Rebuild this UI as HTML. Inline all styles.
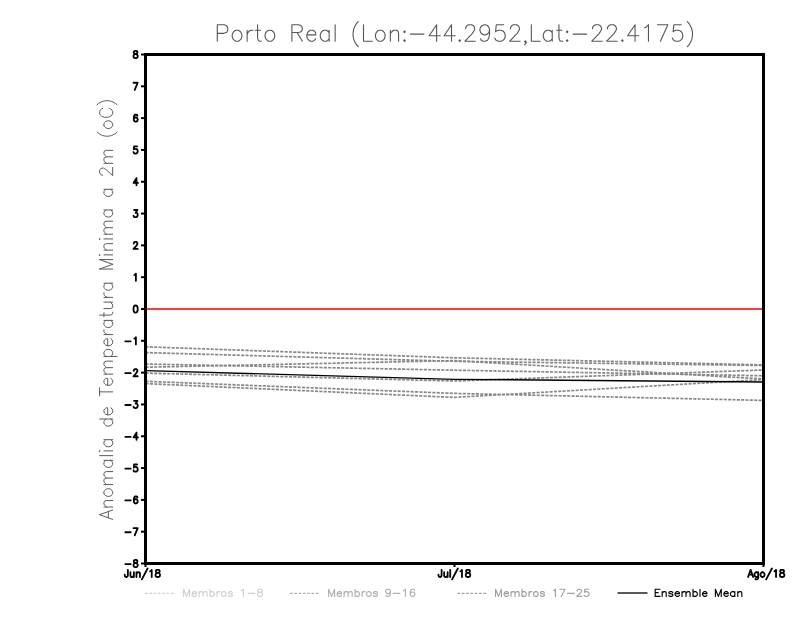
<!DOCTYPE html>
<html><head><meta charset="utf-8"><style>html,body{margin:0;padding:0;background:#fff;width:800px;height:618px;overflow:hidden}svg{display:block}</style></head>
<body><svg width="800" height="618" viewBox="0 0 800 618">
<rect x="0" y="0" width="800" height="618" fill="#fff"/>
<polyline points="145.5,346.80 454.5,357.80 763.5,364.90" fill="none" stroke="#888888" stroke-width="1.7" stroke-dasharray="3.1 1.25"/>
<polyline points="145.5,352.60 454.5,361.30 763.5,365.50" fill="none" stroke="#888888" stroke-width="1.7" stroke-dasharray="3.1 1.25"/>
<polyline points="145.5,364.00 454.5,370.20 763.5,375.80" fill="none" stroke="#888888" stroke-width="1.7" stroke-dasharray="3.1 1.25"/>
<polyline points="145.5,367.25 454.5,360.60 763.5,379.00" fill="none" stroke="#888888" stroke-width="1.7" stroke-dasharray="3.1 1.25"/>
<polyline points="145.5,373.10 454.5,381.00 763.5,370.00" fill="none" stroke="#888888" stroke-width="1.7" stroke-dasharray="3.1 1.25"/>
<polyline points="145.5,381.30 454.5,393.40 763.5,400.40" fill="none" stroke="#888888" stroke-width="1.7" stroke-dasharray="3.1 1.25"/>
<polyline points="145.5,383.60 454.5,397.40 763.5,379.60" fill="none" stroke="#888888" stroke-width="1.7" stroke-dasharray="3.1 1.25"/>
<polyline points="145.5,370.60 454.5,379.30 763.5,382.00" fill="none" stroke="#000" stroke-width="1.35"/>
<line x1="146" y1="309" x2="763" y2="309" stroke="#fa3c3c" stroke-width="2"/>
<rect x="145.5" y="54.5" width="618" height="509" fill="none" stroke="#000" stroke-width="3"/>
<line x1="141" y1="563.50" x2="145" y2="563.50" stroke="#000" stroke-width="2"/>
<line x1="141" y1="531.69" x2="145" y2="531.69" stroke="#000" stroke-width="2"/>
<line x1="141" y1="499.88" x2="145" y2="499.88" stroke="#000" stroke-width="2"/>
<line x1="141" y1="468.06" x2="145" y2="468.06" stroke="#000" stroke-width="2"/>
<line x1="141" y1="436.25" x2="145" y2="436.25" stroke="#000" stroke-width="2"/>
<line x1="141" y1="404.44" x2="145" y2="404.44" stroke="#000" stroke-width="2"/>
<line x1="141" y1="372.62" x2="145" y2="372.62" stroke="#000" stroke-width="2"/>
<line x1="141" y1="340.81" x2="145" y2="340.81" stroke="#000" stroke-width="2"/>
<line x1="141" y1="309.00" x2="145" y2="309.00" stroke="#000" stroke-width="2"/>
<line x1="141" y1="277.19" x2="145" y2="277.19" stroke="#000" stroke-width="2"/>
<line x1="141" y1="245.38" x2="145" y2="245.38" stroke="#000" stroke-width="2"/>
<line x1="141" y1="213.56" x2="145" y2="213.56" stroke="#000" stroke-width="2"/>
<line x1="141" y1="181.75" x2="145" y2="181.75" stroke="#000" stroke-width="2"/>
<line x1="141" y1="149.94" x2="145" y2="149.94" stroke="#000" stroke-width="2"/>
<line x1="141" y1="118.12" x2="145" y2="118.12" stroke="#000" stroke-width="2"/>
<line x1="141" y1="86.31" x2="145" y2="86.31" stroke="#000" stroke-width="2"/>
<line x1="141" y1="54.50" x2="145" y2="54.50" stroke="#000" stroke-width="2"/>
<line x1="145.5" y1="563" x2="145.5" y2="567" stroke="#000" stroke-width="2"/>
<line x1="454.5" y1="563" x2="454.5" y2="567" stroke="#000" stroke-width="2"/>
<line x1="763.5" y1="563" x2="763.5" y2="567" stroke="#000" stroke-width="2"/>
<path d="M135.00 559.96 L134.10 560.30 L133.80 560.98 L133.80 561.66 L134.10 562.34 L134.70 562.68 L135.90 563.02 L136.80 563.36 L137.40 564.04 L137.70 564.72 L137.70 565.74 L137.40 566.42 L137.10 566.76 L136.20 567.10 L135.00 567.10 L134.10 566.76 L133.80 566.42 L133.50 565.74 L133.50 564.72 L133.80 564.04 L134.40 563.36 L135.30 563.02 L136.50 562.68 L137.10 562.34 L137.40 561.66 L137.40 560.98 L137.10 560.30 L136.20 559.96 L135.00 559.96" fill="none" stroke="#000" stroke-width="1.8" stroke-linecap="round" stroke-linejoin="round"/>
<path d="M125.30 564.04 L130.70 564.04" fill="none" stroke="#000" stroke-width="1.8" stroke-linecap="round" stroke-linejoin="round"/>
<path d="M137.70 528.15 L134.70 535.29 M133.50 528.15 L137.70 528.15" fill="none" stroke="#000" stroke-width="1.8" stroke-linecap="round" stroke-linejoin="round"/>
<path d="M125.30 532.23 L130.70 532.23" fill="none" stroke="#000" stroke-width="1.8" stroke-linecap="round" stroke-linejoin="round"/>
<path d="M137.40 497.36 L137.10 496.68 L136.20 496.34 L135.60 496.34 L134.70 496.68 L134.10 497.70 L133.80 499.40 L133.80 501.10 L134.10 502.46 L134.70 503.14 L135.60 503.48 L135.90 503.48 L136.80 503.14 L137.40 502.46 L137.70 501.44 L137.70 501.10 L137.40 500.08 L136.80 499.40 L135.90 499.06 L135.60 499.06 L134.70 499.40 L134.10 500.08 L133.80 501.10" fill="none" stroke="#000" stroke-width="1.8" stroke-linecap="round" stroke-linejoin="round"/>
<path d="M125.30 500.42 L130.70 500.42" fill="none" stroke="#000" stroke-width="1.8" stroke-linecap="round" stroke-linejoin="round"/>
<path d="M137.10 464.52 L134.10 464.52 L133.80 467.58 L134.10 467.24 L135.00 466.90 L135.90 466.90 L136.80 467.24 L137.40 467.92 L137.70 468.94 L137.70 469.62 L137.40 470.64 L136.80 471.32 L135.90 471.66 L135.00 471.66 L134.10 471.32 L133.80 470.98 L133.50 470.30" fill="none" stroke="#000" stroke-width="1.8" stroke-linecap="round" stroke-linejoin="round"/>
<path d="M125.30 468.60 L130.70 468.60" fill="none" stroke="#000" stroke-width="1.8" stroke-linecap="round" stroke-linejoin="round"/>
<path d="M136.50 432.71 L133.50 437.47 L138.00 437.47 M136.50 432.71 L136.50 439.85" fill="none" stroke="#000" stroke-width="1.8" stroke-linecap="round" stroke-linejoin="round"/>
<path d="M125.30 436.79 L130.70 436.79" fill="none" stroke="#000" stroke-width="1.8" stroke-linecap="round" stroke-linejoin="round"/>
<path d="M134.10 400.90 L137.40 400.90 L135.60 403.62 L136.50 403.62 L137.10 403.96 L137.40 404.30 L137.70 405.32 L137.70 406.00 L137.40 407.02 L136.80 407.70 L135.90 408.04 L135.00 408.04 L134.10 407.70 L133.80 407.36 L133.50 406.68" fill="none" stroke="#000" stroke-width="1.8" stroke-linecap="round" stroke-linejoin="round"/>
<path d="M125.30 404.98 L130.70 404.98" fill="none" stroke="#000" stroke-width="1.8" stroke-linecap="round" stroke-linejoin="round"/>
<path d="M133.80 370.79 L133.80 370.45 L134.10 369.77 L134.40 369.43 L135.00 369.09 L136.20 369.09 L136.80 369.43 L137.10 369.77 L137.40 370.45 L137.40 371.12 L137.10 371.81 L136.50 372.83 L133.50 376.23 L137.70 376.23" fill="none" stroke="#000" stroke-width="1.8" stroke-linecap="round" stroke-linejoin="round"/>
<path d="M125.30 373.17 L130.70 373.17" fill="none" stroke="#000" stroke-width="1.8" stroke-linecap="round" stroke-linejoin="round"/>
<path d="M134.40 338.63 L135.00 338.29 L135.90 337.27 L135.90 344.41" fill="none" stroke="#000" stroke-width="1.8" stroke-linecap="round" stroke-linejoin="round"/>
<path d="M125.30 341.35 L130.70 341.35" fill="none" stroke="#000" stroke-width="1.8" stroke-linecap="round" stroke-linejoin="round"/>
<path d="M135.30 305.46 L134.40 305.80 L133.80 306.82 L133.50 308.52 L133.50 309.54 L133.80 311.24 L134.40 312.26 L135.30 312.60 L135.90 312.60 L136.80 312.26 L137.40 311.24 L137.70 309.54 L137.70 308.52 L137.40 306.82 L136.80 305.80 L135.90 305.46 L135.30 305.46" fill="none" stroke="#000" stroke-width="1.8" stroke-linecap="round" stroke-linejoin="round"/>
<path d="M134.40 275.01 L135.00 274.67 L135.90 273.65 L135.90 280.79" fill="none" stroke="#000" stroke-width="1.8" stroke-linecap="round" stroke-linejoin="round"/>
<path d="M133.80 243.53 L133.80 243.19 L134.10 242.51 L134.40 242.17 L135.00 241.83 L136.20 241.83 L136.80 242.17 L137.10 242.51 L137.40 243.19 L137.40 243.88 L137.10 244.56 L136.50 245.57 L133.50 248.97 L137.70 248.97" fill="none" stroke="#000" stroke-width="1.8" stroke-linecap="round" stroke-linejoin="round"/>
<path d="M134.10 210.02 L137.40 210.02 L135.60 212.74 L136.50 212.74 L137.10 213.08 L137.40 213.42 L137.70 214.44 L137.70 215.12 L137.40 216.14 L136.80 216.82 L135.90 217.16 L135.00 217.16 L134.10 216.82 L133.80 216.48 L133.50 215.80" fill="none" stroke="#000" stroke-width="1.8" stroke-linecap="round" stroke-linejoin="round"/>
<path d="M136.50 178.21 L133.50 182.97 L138.00 182.97 M136.50 178.21 L136.50 185.35" fill="none" stroke="#000" stroke-width="1.8" stroke-linecap="round" stroke-linejoin="round"/>
<path d="M137.10 146.40 L134.10 146.40 L133.80 149.46 L134.10 149.12 L135.00 148.78 L135.90 148.78 L136.80 149.12 L137.40 149.80 L137.70 150.82 L137.70 151.50 L137.40 152.52 L136.80 153.20 L135.90 153.54 L135.00 153.54 L134.10 153.20 L133.80 152.86 L133.50 152.18" fill="none" stroke="#000" stroke-width="1.8" stroke-linecap="round" stroke-linejoin="round"/>
<path d="M137.40 115.60 L137.10 114.92 L136.20 114.58 L135.60 114.58 L134.70 114.92 L134.10 115.94 L133.80 117.64 L133.80 119.34 L134.10 120.70 L134.70 121.38 L135.60 121.72 L135.90 121.72 L136.80 121.38 L137.40 120.70 L137.70 119.68 L137.70 119.34 L137.40 118.32 L136.80 117.64 L135.90 117.30 L135.60 117.30 L134.70 117.64 L134.10 118.32 L133.80 119.34" fill="none" stroke="#000" stroke-width="1.8" stroke-linecap="round" stroke-linejoin="round"/>
<path d="M137.70 82.77 L134.70 89.91 M133.50 82.77 L137.70 82.77" fill="none" stroke="#000" stroke-width="1.8" stroke-linecap="round" stroke-linejoin="round"/>
<path d="M135.00 50.96 L134.10 51.30 L133.80 51.98 L133.80 52.66 L134.10 53.34 L134.70 53.68 L135.90 54.02 L136.80 54.36 L137.40 55.04 L137.70 55.72 L137.70 56.74 L137.40 57.42 L137.10 57.76 L136.20 58.10 L135.00 58.10 L134.10 57.76 L133.80 57.42 L133.50 56.74 L133.50 55.72 L133.80 55.04 L134.40 54.36 L135.30 54.02 L136.50 53.68 L137.10 53.34 L137.40 52.66 L137.40 51.98 L137.10 51.30 L136.20 50.96 L135.00 50.96" fill="none" stroke="#000" stroke-width="1.8" stroke-linecap="round" stroke-linejoin="round"/>
<path d="M127.87 569.86 L127.87 575.30 L127.55 576.32 L127.24 576.66 L126.60 577.00 L125.96 577.00 L125.33 576.66 L125.01 576.32 L124.69 575.30 L124.69 574.62 M130.42 572.24 L130.42 575.64 L130.73 576.66 L131.37 577.00 L132.32 577.00 L132.96 576.66 L133.91 575.64 M133.91 572.24 L133.91 577.00 M136.46 572.24 L136.46 577.00 M136.46 573.60 L137.41 572.58 L138.05 572.24 L139.00 572.24 L139.64 572.58 L139.96 573.60 L139.96 577.00 M147.59 568.50 L141.86 579.38 M150.13 571.22 L150.77 570.88 L151.72 569.86 L151.72 577.00 M157.13 569.86 L156.17 570.20 L155.86 570.88 L155.86 571.56 L156.17 572.24 L156.81 572.58 L158.08 572.92 L159.04 573.26 L159.67 573.94 L159.99 574.62 L159.99 575.64 L159.67 576.32 L159.35 576.66 L158.40 577.00 L157.13 577.00 L156.17 576.66 L155.86 576.32 L155.54 575.64 L155.54 574.62 L155.86 573.94 L156.49 573.26 L157.45 572.92 L158.72 572.58 L159.35 572.24 L159.67 571.56 L159.67 570.88 L159.35 570.20 L158.40 569.86 L157.13 569.86" fill="none" stroke="#000" stroke-width="1.8" stroke-linecap="round" stroke-linejoin="round"/>
<path d="M441.62 569.86 L441.62 575.30 L441.30 576.32 L440.99 576.66 L440.35 577.00 L439.71 577.00 L439.08 576.66 L438.76 576.32 L438.44 575.30 L438.44 574.62 M444.17 572.24 L444.17 575.64 L444.48 576.66 L445.12 577.00 L446.07 577.00 L446.71 576.66 L447.66 575.64 M447.66 572.24 L447.66 577.00 M450.21 569.86 L450.21 577.00 M457.84 568.50 L452.12 579.38 M460.38 571.22 L461.02 570.88 L461.97 569.86 L461.97 577.00 M467.38 569.86 L466.42 570.20 L466.11 570.88 L466.11 571.56 L466.42 572.24 L467.06 572.58 L468.33 572.92 L469.29 573.26 L469.92 573.94 L470.24 574.62 L470.24 575.64 L469.92 576.32 L469.60 576.66 L468.65 577.00 L467.38 577.00 L466.42 576.66 L466.11 576.32 L465.79 575.64 L465.79 574.62 L466.11 573.94 L466.74 573.26 L467.70 572.92 L468.97 572.58 L469.60 572.24 L469.92 571.56 L469.92 570.88 L469.60 570.20 L468.65 569.86 L467.38 569.86" fill="none" stroke="#000" stroke-width="1.8" stroke-linecap="round" stroke-linejoin="round"/>
<path d="M750.60 569.86 L748.06 577.00 M750.60 569.86 L753.14 577.00 M749.01 574.62 L752.19 574.62 M758.23 572.24 L758.23 577.68 L757.91 578.70 L757.60 579.04 L756.96 579.38 L756.01 579.38 L755.37 579.04 M758.23 573.26 L757.60 572.58 L756.96 572.24 L756.01 572.24 L755.37 572.58 L754.73 573.26 L754.42 574.28 L754.42 574.96 L754.73 575.98 L755.37 576.66 L756.01 577.00 L756.96 577.00 L757.60 576.66 L758.23 575.98 M762.05 572.24 L761.41 572.58 L760.78 573.26 L760.46 574.28 L760.46 574.96 L760.78 575.98 L761.41 576.66 L762.05 577.00 L763.00 577.00 L763.64 576.66 L764.27 575.98 L764.59 574.96 L764.59 574.28 L764.27 573.26 L763.64 572.58 L763.00 572.24 L762.05 572.24 M771.91 568.50 L766.18 579.38 M774.45 571.22 L775.09 570.88 L776.04 569.86 L776.04 577.00 M781.45 569.86 L780.49 570.20 L780.17 570.88 L780.17 571.56 L780.49 572.24 L781.13 572.58 L782.40 572.92 L783.35 573.26 L783.99 573.94 L784.31 574.62 L784.31 575.64 L783.99 576.32 L783.67 576.66 L782.72 577.00 L781.45 577.00 L780.49 576.66 L780.17 576.32 L779.86 575.64 L779.86 574.62 L780.17 573.94 L780.81 573.26 L781.76 572.92 L783.04 572.58 L783.67 572.24 L783.99 571.56 L783.99 570.88 L783.67 570.20 L782.72 569.86 L781.45 569.86" fill="none" stroke="#000" stroke-width="1.8" stroke-linecap="round" stroke-linejoin="round"/>
<path d="M217.28 24.72 L217.28 41.20 M217.28 24.72 L224.00 24.72 L226.24 25.50 L226.98 26.29 L227.73 27.86 L227.73 30.21 L226.98 31.78 L226.24 32.57 L224.00 33.35 L217.28 33.35 M235.93 30.21 L234.44 31.00 L232.95 32.57 L232.20 34.92 L232.20 36.49 L232.95 38.85 L234.44 40.42 L235.93 41.20 L238.17 41.20 L239.66 40.42 L241.16 38.85 L241.90 36.49 L241.90 34.92 L241.16 32.57 L239.66 31.00 L238.17 30.21 L235.93 30.21 M247.12 30.21 L247.12 41.20 M247.12 34.92 L247.87 32.57 L249.36 31.00 L250.85 30.21 L253.09 30.21 M257.57 24.72 L257.57 38.06 L258.31 40.42 L259.81 41.20 L261.30 41.20 M255.33 30.21 L260.55 30.21 M268.76 30.21 L267.27 31.00 L265.77 32.57 L265.03 34.92 L265.03 36.49 L265.77 38.85 L267.27 40.42 L268.76 41.20 L271.00 41.20 L272.49 40.42 L273.98 38.85 L274.73 36.49 L274.73 34.92 L273.98 32.57 L272.49 31.00 L271.00 30.21 L268.76 30.21 M291.88 24.72 L291.88 41.20 M291.88 24.72 L298.60 24.72 L300.84 25.50 L301.58 26.29 L302.33 27.86 L302.33 29.43 L301.58 31.00 L300.84 31.78 L298.60 32.57 L291.88 32.57 M297.11 32.57 L302.33 41.20 M306.80 34.92 L315.76 34.92 L315.76 33.35 L315.01 31.78 L314.26 31.00 L312.77 30.21 L310.53 30.21 L309.04 31.00 L307.55 32.57 L306.80 34.92 L306.80 36.49 L307.55 38.85 L309.04 40.42 L310.53 41.20 L312.77 41.20 L314.26 40.42 L315.76 38.85 M329.18 30.21 L329.18 41.20 M329.18 32.57 L327.69 31.00 L326.20 30.21 L323.96 30.21 L322.47 31.00 L320.98 32.57 L320.23 34.92 L320.23 36.49 L320.98 38.85 L322.47 40.42 L323.96 41.20 L326.20 41.20 L327.69 40.42 L329.18 38.85 M335.15 24.72 L335.15 41.20 M358.28 21.58 L356.79 23.15 L355.29 25.50 L353.80 28.64 L353.06 32.57 L353.06 35.71 L353.80 39.63 L355.29 42.77 L356.79 45.12 L358.28 46.70 M363.50 24.72 L363.50 41.20 M363.50 41.20 L372.45 41.20 M379.17 30.21 L377.67 31.00 L376.18 32.57 L375.44 34.92 L375.44 36.49 L376.18 38.85 L377.67 40.42 L379.17 41.20 L381.40 41.20 L382.90 40.42 L384.39 38.85 L385.13 36.49 L385.13 34.92 L384.39 32.57 L382.90 31.00 L381.40 30.21 L379.17 30.21 M390.36 30.21 L390.36 41.20 M390.36 33.35 L392.59 31.00 L394.09 30.21 L396.32 30.21 L397.82 31.00 L398.56 33.35 L398.56 41.20 M404.53 31.00 L403.78 31.78 L404.53 32.57 L405.28 31.78 L404.53 31.00 M404.53 39.79 L403.78 40.57 L404.53 41.36 L405.28 40.57 L404.53 39.79 M410.50 34.14 L423.93 34.14 M436.61 24.72 L429.15 35.71 L440.34 35.71 M436.61 24.72 L436.61 41.20 M451.53 24.72 L444.07 35.71 L455.26 35.71 M451.53 24.72 L451.53 41.20 M459.73 39.79 L458.99 40.57 L459.73 41.36 L460.48 40.57 L459.73 39.79 M465.70 28.64 L465.70 27.86 L466.45 26.29 L467.19 25.50 L468.69 24.72 L471.67 24.72 L473.16 25.50 L473.91 26.29 L474.65 27.86 L474.65 29.43 L473.91 31.00 L472.42 33.35 L464.96 41.20 L475.40 41.20 M489.57 30.21 L488.83 32.57 L487.34 34.14 L485.10 34.92 L484.35 34.92 L482.11 34.14 L480.62 32.57 L479.88 30.21 L479.88 29.43 L480.62 27.07 L482.11 25.50 L484.35 24.72 L485.10 24.72 L487.34 25.50 L488.83 27.07 L489.57 30.21 L489.57 34.14 L488.83 38.06 L487.34 40.42 L485.10 41.20 L483.61 41.20 L481.37 40.42 L480.62 38.85 M503.75 24.72 L496.29 24.72 L495.54 31.78 L496.29 31.00 L498.53 30.21 L500.76 30.21 L503.00 31.00 L504.49 32.57 L505.24 34.92 L505.24 36.49 L504.49 38.85 L503.00 40.42 L500.76 41.20 L498.53 41.20 L496.29 40.42 L495.54 39.63 L494.80 38.06 M510.46 28.64 L510.46 27.86 L511.21 26.29 L511.95 25.50 L513.45 24.72 L516.43 24.72 L517.92 25.50 L518.67 26.29 L519.41 27.86 L519.41 29.43 L518.67 31.00 L517.18 33.35 L509.72 41.20 L520.16 41.20 M526.13 41.59 L525.38 42.38 L524.64 41.59 L525.38 40.81 L526.13 41.59 L526.13 43.16 L524.64 44.73 M531.35 24.72 L531.35 41.20 M531.35 41.20 L540.30 41.20 M552.24 30.21 L552.24 41.20 M552.24 32.57 L550.75 31.00 L549.25 30.21 L547.02 30.21 L545.52 31.00 L544.03 32.57 L543.29 34.92 L543.29 36.49 L544.03 38.85 L545.52 40.42 L547.02 41.20 L549.25 41.20 L550.75 40.42 L552.24 38.85 M558.95 24.72 L558.95 38.06 L559.70 40.42 L561.19 41.20 L562.68 41.20 M556.71 30.21 L561.94 30.21 M567.16 31.00 L566.41 31.78 L567.16 32.57 L567.90 31.78 L567.16 31.00 M567.16 39.79 L566.41 40.57 L567.16 41.36 L567.90 40.57 L567.16 39.79 M573.13 34.14 L586.55 34.14 M592.52 28.64 L592.52 27.86 L593.27 26.29 L594.01 25.50 L595.51 24.72 L598.49 24.72 L599.98 25.50 L600.73 26.29 L601.47 27.86 L601.47 29.43 L600.73 31.00 L599.24 33.35 L591.78 41.20 L602.22 41.20 M607.44 28.64 L607.44 27.86 L608.19 26.29 L608.93 25.50 L610.43 24.72 L613.41 24.72 L614.90 25.50 L615.65 26.29 L616.39 27.86 L616.39 29.43 L615.65 31.00 L614.16 33.35 L606.70 41.20 L617.14 41.20 M622.36 39.79 L621.62 40.57 L622.36 41.36 L623.11 40.57 L622.36 39.79 M635.04 24.72 L627.58 35.71 L638.77 35.71 M635.04 24.72 L635.04 41.20 M644.74 27.86 L646.23 27.07 L648.47 24.72 L648.47 41.20 M667.87 24.72 L660.41 41.20 M657.42 24.72 L667.87 24.72 M681.30 24.72 L673.84 24.72 L673.09 31.78 L673.84 31.00 L676.07 30.21 L678.31 30.21 L680.55 31.00 L682.04 32.57 L682.79 34.92 L682.79 36.49 L682.04 38.85 L680.55 40.42 L678.31 41.20 L676.07 41.20 L673.84 40.42 L673.09 39.63 L672.34 38.06 M687.26 21.58 L688.76 23.15 L690.25 25.50 L691.74 28.64 L692.49 32.57 L692.49 35.71 L691.74 39.63 L690.25 42.77 L688.76 45.12 L687.26 46.70" fill="none" stroke="#555" stroke-width="1.1" stroke-linecap="round" stroke-linejoin="round"/>
<g transform="translate(112.7,520.0) rotate(-90)"><path d="M5.31 -13.12 L0.59 0.00 M5.31 -13.12 L10.04 0.00 M2.36 -4.38 L8.27 -4.38 M12.99 -8.75 L12.99 0.00 M12.99 -6.25 L14.76 -8.12 L15.94 -8.75 L17.72 -8.75 L18.90 -8.12 L19.49 -6.25 L19.49 0.00 M26.57 -8.75 L25.39 -8.12 L24.21 -6.88 L23.62 -5.00 L23.62 -3.75 L24.21 -1.88 L25.39 -0.62 L26.57 0.00 L28.34 0.00 L29.53 -0.62 L30.71 -1.88 L31.30 -3.75 L31.30 -5.00 L30.71 -6.88 L29.53 -8.12 L28.34 -8.75 L26.57 -8.75 M35.43 -8.75 L35.43 0.00 M35.43 -6.25 L37.20 -8.12 L38.38 -8.75 L40.15 -8.75 L41.33 -8.12 L41.93 -6.25 L41.93 0.00 M41.93 -6.25 L43.70 -8.12 L44.88 -8.75 L46.65 -8.75 L47.83 -8.12 L48.42 -6.25 L48.42 0.00 M59.64 -8.75 L59.64 0.00 M59.64 -6.88 L58.46 -8.12 L57.28 -8.75 L55.51 -8.75 L54.33 -8.12 L53.15 -6.88 L52.55 -5.00 L52.55 -3.75 L53.15 -1.88 L54.33 -0.62 L55.51 0.00 L57.28 0.00 L58.46 -0.62 L59.64 -1.88 M64.36 -13.12 L64.36 0.00 M68.50 -13.12 L69.09 -12.50 L69.68 -13.12 L69.09 -13.75 L68.50 -13.12 M69.09 -8.75 L69.09 0.00 M80.31 -8.75 L80.31 0.00 M80.31 -6.88 L79.13 -8.12 L77.95 -8.75 L76.17 -8.75 L74.99 -8.12 L73.81 -6.88 L73.22 -5.00 L73.22 -3.75 L73.81 -1.88 L74.99 -0.62 L76.17 0.00 L77.95 0.00 L79.13 -0.62 L80.31 -1.88 M100.98 -13.12 L100.98 0.00 M100.98 -6.88 L99.79 -8.12 L98.61 -8.75 L96.84 -8.75 L95.66 -8.12 L94.48 -6.88 L93.89 -5.00 L93.89 -3.75 L94.48 -1.88 L95.66 -0.62 L96.84 0.00 L98.61 0.00 L99.79 -0.62 L100.98 -1.88 M105.11 -5.00 L112.19 -5.00 L112.19 -6.25 L111.60 -7.50 L111.01 -8.12 L109.83 -8.75 L108.06 -8.75 L106.88 -8.12 L105.70 -6.88 L105.11 -5.00 L105.11 -3.75 L105.70 -1.88 L106.88 -0.62 L108.06 0.00 L109.83 0.00 L111.01 -0.62 L112.19 -1.88 M128.14 -13.12 L128.14 0.00 M124.01 -13.12 L132.27 -13.12 M134.63 -5.00 L141.72 -5.00 L141.72 -6.25 L141.13 -7.50 L140.54 -8.12 L139.36 -8.75 L137.59 -8.75 L136.41 -8.12 L135.22 -6.88 L134.63 -5.00 L134.63 -3.75 L135.22 -1.88 L136.41 -0.62 L137.59 0.00 L139.36 0.00 L140.54 -0.62 L141.72 -1.88 M145.85 -8.75 L145.85 0.00 M145.85 -6.25 L147.62 -8.12 L148.81 -8.75 L150.58 -8.75 L151.76 -8.12 L152.35 -6.25 L152.35 0.00 M152.35 -6.25 L154.12 -8.12 L155.30 -8.75 L157.07 -8.75 L158.25 -8.12 L158.84 -6.25 L158.84 0.00 M163.57 -8.75 L163.57 4.38 M163.57 -6.88 L164.75 -8.12 L165.93 -8.75 L167.70 -8.75 L168.88 -8.12 L170.06 -6.88 L170.65 -5.00 L170.65 -3.75 L170.06 -1.88 L168.88 -0.62 L167.70 0.00 L165.93 0.00 L164.75 -0.62 L163.57 -1.88 M174.20 -5.00 L181.28 -5.00 L181.28 -6.25 L180.69 -7.50 L180.10 -8.12 L178.92 -8.75 L177.15 -8.75 L175.97 -8.12 L174.79 -6.88 L174.20 -5.00 L174.20 -3.75 L174.79 -1.88 L175.97 -0.62 L177.15 0.00 L178.92 0.00 L180.10 -0.62 L181.28 -1.88 M185.42 -8.75 L185.42 0.00 M185.42 -5.00 L186.01 -6.88 L187.19 -8.12 L188.37 -8.75 L190.14 -8.75 M199.59 -8.75 L199.59 0.00 M199.59 -6.88 L198.41 -8.12 L197.23 -8.75 L195.46 -8.75 L194.27 -8.12 L193.09 -6.88 L192.50 -5.00 L192.50 -3.75 L193.09 -1.88 L194.27 -0.62 L195.46 0.00 L197.23 0.00 L198.41 -0.62 L199.59 -1.88 M204.90 -13.12 L204.90 -2.50 L205.49 -0.62 L206.68 0.00 L207.86 0.00 M203.13 -8.75 L207.27 -8.75 M211.40 -8.75 L211.40 -2.50 L211.99 -0.62 L213.17 0.00 L214.94 0.00 L216.12 -0.62 L217.89 -2.50 M217.89 -8.75 L217.89 0.00 M222.62 -8.75 L222.62 0.00 M222.62 -5.00 L223.21 -6.88 L224.39 -8.12 L225.57 -8.75 L227.34 -8.75 M236.79 -8.75 L236.79 0.00 M236.79 -6.88 L235.61 -8.12 L234.43 -8.75 L232.66 -8.75 L231.48 -8.12 L230.30 -6.88 L229.70 -5.00 L229.70 -3.75 L230.30 -1.88 L231.48 -0.62 L232.66 0.00 L234.43 0.00 L235.61 -0.62 L236.79 -1.88 M250.96 -13.12 L250.96 0.00 M250.96 -13.12 L255.69 0.00 M260.41 -13.12 L255.69 0.00 M260.41 -13.12 L260.41 0.00 M264.54 -13.12 L265.13 -12.50 L265.73 -13.12 L265.13 -13.75 L264.54 -13.12 M265.13 -8.75 L265.13 0.00 M269.86 -8.75 L269.86 0.00 M269.86 -6.25 L271.63 -8.12 L272.81 -8.75 L274.58 -8.75 L275.76 -8.12 L276.35 -6.25 L276.35 0.00 M280.49 -13.12 L281.08 -12.50 L281.67 -13.12 L281.08 -13.75 L280.49 -13.12 M281.08 -8.75 L281.08 0.00 M285.80 -8.75 L285.80 0.00 M285.80 -6.25 L287.57 -8.12 L288.75 -8.75 L290.53 -8.75 L291.71 -8.12 L292.30 -6.25 L292.30 0.00 M292.30 -6.25 L294.07 -8.12 L295.25 -8.75 L297.02 -8.75 L298.20 -8.12 L298.79 -6.25 L298.79 0.00 M310.01 -8.75 L310.01 0.00 M310.01 -6.88 L308.83 -8.12 L307.65 -8.75 L305.88 -8.75 L304.70 -8.12 L303.52 -6.88 L302.93 -5.00 L302.93 -3.75 L303.52 -1.88 L304.70 -0.62 L305.88 0.00 L307.65 0.00 L308.83 -0.62 L310.01 -1.88 M330.68 -8.75 L330.68 0.00 M330.68 -6.88 L329.50 -8.12 L328.32 -8.75 L326.55 -8.75 L325.37 -8.12 L324.18 -6.88 L323.59 -5.00 L323.59 -3.75 L324.18 -1.88 L325.37 -0.62 L326.55 0.00 L328.32 0.00 L329.50 -0.62 L330.68 -1.88 M344.85 -10.00 L344.85 -10.62 L345.44 -11.88 L346.03 -12.50 L347.21 -13.12 L349.58 -13.12 L350.76 -12.50 L351.35 -11.88 L351.94 -10.62 L351.94 -9.38 L351.35 -8.12 L350.17 -6.25 L344.26 0.00 L352.53 0.00 M356.66 -8.75 L356.66 0.00 M356.66 -6.25 L358.43 -8.12 L359.61 -8.75 L361.39 -8.75 L362.57 -8.12 L363.16 -6.25 L363.16 0.00 M363.16 -6.25 L364.93 -8.12 L366.11 -8.75 L367.88 -8.75 L369.06 -8.12 L369.65 -6.25 L369.65 0.00 M387.96 -15.62 L386.78 -14.38 L385.60 -12.50 L384.42 -10.00 L383.82 -6.88 L383.82 -4.38 L384.42 -1.25 L385.60 1.25 L386.78 3.12 L387.96 4.38 M394.45 -8.75 L393.27 -8.12 L392.09 -6.88 L391.50 -5.00 L391.50 -3.75 L392.09 -1.88 L393.27 -0.62 L394.45 0.00 L396.23 0.00 L397.41 -0.62 L398.59 -1.88 L399.18 -3.75 L399.18 -5.00 L398.59 -6.88 L397.41 -8.12 L396.23 -8.75 L394.45 -8.75 M411.58 -10.00 L410.99 -11.25 L409.81 -12.50 L408.63 -13.12 L406.26 -13.12 L405.08 -12.50 L403.90 -11.25 L403.31 -10.00 L402.72 -8.12 L402.72 -5.00 L403.31 -3.12 L403.90 -1.88 L405.08 -0.62 L406.26 0.00 L408.63 0.00 L409.81 -0.62 L410.99 -1.88 L411.58 -3.12 M415.12 -15.62 L416.30 -14.38 L417.48 -12.50 L418.66 -10.00 L419.25 -6.88 L419.25 -4.38 L418.66 -1.25 L417.48 1.25 L416.30 3.12 L415.12 4.38" fill="none" stroke="#5a5a5a" stroke-width="1.0" stroke-linecap="round" stroke-linejoin="round"/></g>
<line x1="145.0" y1="593.3" x2="174.0" y2="593.3" stroke="#d0d0d0" stroke-width="1.15" stroke-dasharray="2.7 1.6"/>
<path d="M183.60 589.26 L183.60 596.40 M183.60 589.26 L186.54 596.40 M189.47 589.26 L186.54 596.40 M189.47 589.26 L189.47 596.40 M192.04 593.68 L196.44 593.68 L196.44 593.00 L196.08 592.32 L195.71 591.98 L194.98 591.64 L193.88 591.64 L193.14 591.98 L192.41 592.66 L192.04 593.68 L192.04 594.36 L192.41 595.38 L193.14 596.06 L193.88 596.40 L194.98 596.40 L195.71 596.06 L196.44 595.38 M199.01 591.64 L199.01 596.40 M199.01 593.00 L200.11 591.98 L200.85 591.64 L201.95 591.64 L202.68 591.98 L203.05 593.00 L203.05 596.40 M203.05 593.00 L204.15 591.98 L204.89 591.64 L205.99 591.64 L206.72 591.98 L207.09 593.00 L207.09 596.40 M210.02 589.26 L210.02 596.40 M210.02 592.66 L210.76 591.98 L211.49 591.64 L212.59 591.64 L213.33 591.98 L214.06 592.66 L214.43 593.68 L214.43 594.36 L214.06 595.38 L213.33 596.06 L212.59 596.40 L211.49 596.40 L210.76 596.06 L210.02 595.38 M217.00 591.64 L217.00 596.40 M217.00 593.68 L217.36 592.66 L218.10 591.98 L218.83 591.64 L219.93 591.64 M223.24 591.64 L222.50 591.98 L221.77 592.66 L221.40 593.68 L221.40 594.36 L221.77 595.38 L222.50 596.06 L223.24 596.40 L224.34 596.40 L225.07 596.06 L225.80 595.38 L226.17 594.36 L226.17 593.68 L225.80 592.66 L225.07 591.98 L224.34 591.64 L223.24 591.64 M232.41 592.66 L232.04 591.98 L230.94 591.64 L229.84 591.64 L228.74 591.98 L228.37 592.66 L228.74 593.34 L229.47 593.68 L231.31 594.02 L232.04 594.36 L232.41 595.04 L232.41 595.38 L232.04 596.06 L230.94 596.40 L229.84 596.40 L228.74 596.06 L228.37 595.38 M241.59 590.62 L242.32 590.28 L243.42 589.26 L243.42 596.40 M248.19 593.34 L254.80 593.34 M259.20 589.26 L258.10 589.60 L257.73 590.28 L257.73 590.96 L258.10 591.64 L258.84 591.98 L260.30 592.32 L261.40 592.66 L262.14 593.34 L262.50 594.02 L262.50 595.04 L262.14 595.72 L261.77 596.06 L260.67 596.40 L259.20 596.40 L258.10 596.06 L257.73 595.72 L257.37 595.04 L257.37 594.02 L257.73 593.34 L258.47 592.66 L259.57 592.32 L261.04 591.98 L261.77 591.64 L262.14 590.96 L262.14 590.28 L261.77 589.60 L260.67 589.26 L259.20 589.26" fill="none" stroke="#d0d0d0" stroke-width="1.15" stroke-linecap="round" stroke-linejoin="round"/>
<line x1="290.0" y1="593.3" x2="320.0" y2="593.3" stroke="#b0b0b0" stroke-width="1.15" stroke-dasharray="2.7 1.6"/>
<path d="M328.70 589.26 L328.70 596.40 M328.70 589.26 L331.64 596.40 M334.57 589.26 L331.64 596.40 M334.57 589.26 L334.57 596.40 M337.14 593.68 L341.55 593.68 L341.55 593.00 L341.18 592.32 L340.81 591.98 L340.08 591.64 L338.98 591.64 L338.24 591.98 L337.51 592.66 L337.14 593.68 L337.14 594.36 L337.51 595.38 L338.24 596.06 L338.98 596.40 L340.08 596.40 L340.81 596.06 L341.55 595.38 M344.11 591.64 L344.11 596.40 M344.11 593.00 L345.22 591.98 L345.95 591.64 L347.05 591.64 L347.78 591.98 L348.15 593.00 L348.15 596.40 M348.15 593.00 L349.25 591.98 L349.99 591.64 L351.09 591.64 L351.82 591.98 L352.19 593.00 L352.19 596.40 M355.12 589.26 L355.12 596.40 M355.12 592.66 L355.86 591.98 L356.59 591.64 L357.69 591.64 L358.43 591.98 L359.16 592.66 L359.53 593.68 L359.53 594.36 L359.16 595.38 L358.43 596.06 L357.69 596.40 L356.59 596.40 L355.86 596.06 L355.12 595.38 M362.10 591.64 L362.10 596.40 M362.10 593.68 L362.46 592.66 L363.20 591.98 L363.93 591.64 L365.03 591.64 M368.34 591.64 L367.60 591.98 L366.87 592.66 L366.50 593.68 L366.50 594.36 L366.87 595.38 L367.60 596.06 L368.34 596.40 L369.44 596.40 L370.17 596.06 L370.91 595.38 L371.27 594.36 L371.27 593.68 L370.91 592.66 L370.17 591.98 L369.44 591.64 L368.34 591.64 M377.51 592.66 L377.14 591.98 L376.04 591.64 L374.94 591.64 L373.84 591.98 L373.47 592.66 L373.84 593.34 L374.58 593.68 L376.41 594.02 L377.14 594.36 L377.51 595.04 L377.51 595.38 L377.14 596.06 L376.04 596.40 L374.94 596.40 L373.84 596.06 L373.47 595.38 M390.36 591.64 L389.99 592.66 L389.26 593.34 L388.15 593.68 L387.79 593.68 L386.69 593.34 L385.95 592.66 L385.59 591.64 L385.59 591.30 L385.95 590.28 L386.69 589.60 L387.79 589.26 L388.15 589.26 L389.26 589.60 L389.99 590.28 L390.36 591.64 L390.36 593.34 L389.99 595.04 L389.26 596.06 L388.15 596.40 L387.42 596.40 L386.32 596.06 L385.95 595.38 M393.29 593.34 L399.90 593.34 M403.57 590.62 L404.30 590.28 L405.40 589.26 L405.40 596.40 M414.58 590.28 L414.21 589.60 L413.11 589.26 L412.38 589.26 L411.27 589.60 L410.54 590.62 L410.17 592.32 L410.17 594.02 L410.54 595.38 L411.27 596.06 L412.38 596.40 L412.74 596.40 L413.84 596.06 L414.58 595.38 L414.94 594.36 L414.94 594.02 L414.58 593.00 L413.84 592.32 L412.74 591.98 L412.38 591.98 L411.27 592.32 L410.54 593.00 L410.17 594.02" fill="none" stroke="#b0b0b0" stroke-width="1.15" stroke-linecap="round" stroke-linejoin="round"/>
<line x1="457.5" y1="593.3" x2="486.6" y2="593.3" stroke="#a0a0a0" stroke-width="1.15" stroke-dasharray="2.7 1.6"/>
<path d="M495.60 589.26 L495.60 596.40 M495.60 589.26 L498.54 596.40 M501.47 589.26 L498.54 596.40 M501.47 589.26 L501.47 596.40 M504.04 593.68 L508.44 593.68 L508.44 593.00 L508.08 592.32 L507.71 591.98 L506.98 591.64 L505.88 591.64 L505.14 591.98 L504.41 592.66 L504.04 593.68 L504.04 594.36 L504.41 595.38 L505.14 596.06 L505.88 596.40 L506.98 596.40 L507.71 596.06 L508.44 595.38 M511.01 591.64 L511.01 596.40 M511.01 593.00 L512.12 591.98 L512.85 591.64 L513.95 591.64 L514.68 591.98 L515.05 593.00 L515.05 596.40 M515.05 593.00 L516.15 591.98 L516.89 591.64 L517.99 591.64 L518.72 591.98 L519.09 593.00 L519.09 596.40 M522.02 589.26 L522.02 596.40 M522.02 592.66 L522.76 591.98 L523.49 591.64 L524.59 591.64 L525.33 591.98 L526.06 592.66 L526.43 593.68 L526.43 594.36 L526.06 595.38 L525.33 596.06 L524.59 596.40 L523.49 596.40 L522.76 596.06 L522.02 595.38 M529.00 591.64 L529.00 596.40 M529.00 593.68 L529.36 592.66 L530.10 591.98 L530.83 591.64 L531.93 591.64 M535.24 591.64 L534.50 591.98 L533.77 592.66 L533.40 593.68 L533.40 594.36 L533.77 595.38 L534.50 596.06 L535.24 596.40 L536.34 596.40 L537.07 596.06 L537.80 595.38 L538.17 594.36 L538.17 593.68 L537.80 592.66 L537.07 591.98 L536.34 591.64 L535.24 591.64 M544.41 592.66 L544.04 591.98 L542.94 591.64 L541.84 591.64 L540.74 591.98 L540.37 592.66 L540.74 593.34 L541.47 593.68 L543.31 594.02 L544.04 594.36 L544.41 595.04 L544.41 595.38 L544.04 596.06 L542.94 596.40 L541.84 596.40 L540.74 596.06 L540.37 595.38 M553.59 590.62 L554.32 590.28 L555.42 589.26 L555.42 596.40 M564.96 589.26 L561.29 596.40 M559.82 589.26 L564.96 589.26 M567.53 593.34 L574.14 593.34 M577.07 590.96 L577.07 590.62 L577.44 589.94 L577.81 589.60 L578.54 589.26 L580.01 589.26 L580.74 589.60 L581.11 589.94 L581.48 590.62 L581.48 591.30 L581.11 591.98 L580.38 593.00 L576.71 596.40 L581.85 596.40 M588.45 589.26 L584.78 589.26 L584.41 592.32 L584.78 591.98 L585.88 591.64 L586.98 591.64 L588.08 591.98 L588.82 592.66 L589.19 593.68 L589.19 594.36 L588.82 595.38 L588.08 596.06 L586.98 596.40 L585.88 596.40 L584.78 596.06 L584.41 595.72 L584.05 595.04" fill="none" stroke="#a0a0a0" stroke-width="1.15" stroke-linecap="round" stroke-linejoin="round"/>
<line x1="617.5" y1="593" x2="647.5" y2="593" stroke="#000" stroke-width="1.3"/>
<path d="M655.20 589.26 L655.20 596.40 M655.20 589.26 L659.97 589.26 M655.20 592.66 L658.14 592.66 M655.20 596.40 L659.97 596.40 M662.17 591.64 L662.17 596.40 M662.17 593.00 L663.27 591.98 L664.01 591.64 L665.11 591.64 L665.84 591.98 L666.21 593.00 L666.21 596.40 M672.82 592.66 L672.45 591.98 L671.35 591.64 L670.25 591.64 L669.15 591.98 L668.78 592.66 L669.15 593.34 L669.88 593.68 L671.72 594.02 L672.45 594.36 L672.82 595.04 L672.82 595.38 L672.45 596.06 L671.35 596.40 L670.25 596.40 L669.15 596.06 L668.78 595.38 M675.02 593.68 L679.42 593.68 L679.42 593.00 L679.06 592.32 L678.69 591.98 L677.95 591.64 L676.85 591.64 L676.12 591.98 L675.38 592.66 L675.02 593.68 L675.02 594.36 L675.38 595.38 L676.12 596.06 L676.85 596.40 L677.95 596.40 L678.69 596.06 L679.42 595.38 M681.99 591.64 L681.99 596.40 M681.99 593.00 L683.09 591.98 L683.83 591.64 L684.93 591.64 L685.66 591.98 L686.03 593.00 L686.03 596.40 M686.03 593.00 L687.13 591.98 L687.86 591.64 L688.96 591.64 L689.70 591.98 L690.07 593.00 L690.07 596.40 M693.00 589.26 L693.00 596.40 M693.00 592.66 L693.74 591.98 L694.47 591.64 L695.57 591.64 L696.30 591.98 L697.04 592.66 L697.40 593.68 L697.40 594.36 L697.04 595.38 L696.30 596.06 L695.57 596.40 L694.47 596.40 L693.74 596.06 L693.00 595.38 M699.97 589.26 L699.97 596.40 M702.54 593.68 L706.95 593.68 L706.95 593.00 L706.58 592.32 L706.21 591.98 L705.48 591.64 L704.38 591.64 L703.64 591.98 L702.91 592.66 L702.54 593.68 L702.54 594.36 L702.91 595.38 L703.64 596.06 L704.38 596.40 L705.48 596.40 L706.21 596.06 L706.95 595.38 M715.39 589.26 L715.39 596.40 M715.39 589.26 L718.32 596.40 M721.26 589.26 L718.32 596.40 M721.26 589.26 L721.26 596.40 M723.83 593.68 L728.23 593.68 L728.23 593.00 L727.87 592.32 L727.50 591.98 L726.76 591.64 L725.66 591.64 L724.93 591.98 L724.20 592.66 L723.83 593.68 L723.83 594.36 L724.20 595.38 L724.93 596.06 L725.66 596.40 L726.76 596.40 L727.50 596.06 L728.23 595.38 M734.84 591.64 L734.84 596.40 M734.84 592.66 L734.10 591.98 L733.37 591.64 L732.27 591.64 L731.54 591.98 L730.80 592.66 L730.43 593.68 L730.43 594.36 L730.80 595.38 L731.54 596.06 L732.27 596.40 L733.37 596.40 L734.10 596.06 L734.84 595.38 M737.77 591.64 L737.77 596.40 M737.77 593.00 L738.88 591.98 L739.61 591.64 L740.71 591.64 L741.44 591.98 L741.81 593.00 L741.81 596.40" fill="none" stroke="#000" stroke-width="1.15" stroke-linecap="round" stroke-linejoin="round"/>
</svg></body></html>
